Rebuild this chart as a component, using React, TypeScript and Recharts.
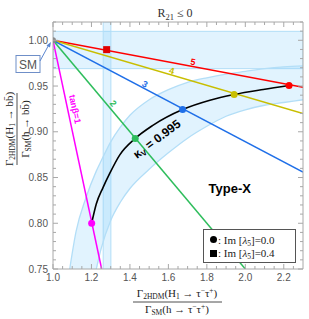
import React from 'react';
import { ComposedChart, XAxis, YAxis, Line, Area, Scatter, ReferenceArea } from 'recharts';

const W = 309;
const H = 319;

const X_DOMAIN: [number, number] = [1.0, 2.3];
const Y_DOMAIN: [number, number] = [0.75, 1.02];

const xTicks = [1.0, 1.05, 1.1, 1.15, 1.2, 1.25, 1.3, 1.35, 1.4, 1.45, 1.5, 1.55, 1.6, 1.65, 1.7, 1.75, 1.8, 1.85, 1.9, 1.95, 2.0, 2.05, 2.1, 2.15, 2.2, 2.25];
const xMajorTicks = [1.0, 1.2, 1.4, 1.6, 1.8, 2.0, 2.2];
const yTicks = [0.75, 0.76, 0.77, 0.78, 0.79, 0.8, 0.81, 0.82, 0.83, 0.84, 0.85, 0.86, 0.87, 0.88, 0.89, 0.9, 0.91, 0.92, 0.93, 0.94, 0.95, 0.96, 0.97, 0.98, 0.99, 1.0, 1.01, 1.02];
const yMajorTicks = [0.75, 0.8, 0.85, 0.9, 0.95, 1.0];

// tan(beta) lines, all starting at the SM point
const smPoint = [{ x: 1.0, y: 1.0 }];
const tanb5 = [{ x: 1.0, y: 1.0 }, { x: 2.3, y: 0.9487 }];
const tanb4 = [{ x: 1.0, y: 1.0 }, { x: 2.3, y: 0.92 }];
const tanb3 = [{ x: 1.0, y: 1.0 }, { x: 2.3, y: 0.856 }];
const tanb2 = [{ x: 1.0, y: 1.0 }, { x: 2.0, y: 0.75 }];
const tanb1 = [{ x: 1.0, y: 1.0 }, { x: 1.253, y: 0.75 }];

// kappa_V = 0.995 curve
const kappaCurve = [
  { x: 1.201, y: 0.8 },
  { x: 1.225, y: 0.821 },
  { x: 1.26, y: 0.839 },
  { x: 1.295, y: 0.8545 },
  { x: 1.3465, y: 0.8745 },
  { x: 1.4275, y: 0.8927 },
  { x: 1.519, y: 0.907 },
  { x: 1.674, y: 0.9243 },
  { x: 1.816, y: 0.9345 },
  { x: 1.942, y: 0.9407 },
  { x: 2.093, y: 0.9462 },
  { x: 2.2275, y: 0.9505 },
];

// markers: Im[lambda5] = 0.0 (circles) and 0.4 (square)
const dot5 = [{ x: 2.2275, y: 0.9505 }];
const dot4 = [{ x: 1.942, y: 0.9407 }];
const dot3 = [{ x: 1.674, y: 0.9243 }];
const dot2 = [{ x: 1.4275, y: 0.8927 }];
const dot1 = [{ x: 1.201, y: 0.8 }];
const square5 = [{ x: 1.279, y: 0.9898 }];

// light-blue kappa band edges
const arcUpper = [
  { x: 1.087, y: 0.75 },
  { x: 1.12, y: 0.791 },
  { x: 1.17, y: 0.827 },
  { x: 1.225, y: 0.857 },
  { x: 1.25, y: 0.868 },
  { x: 1.3, y: 0.889 },
  { x: 1.35, y: 0.905 },
  { x: 1.4, y: 0.918 },
  { x: 1.5, y: 0.935 },
  { x: 1.6, y: 0.946 },
  { x: 1.7, y: 0.954 },
  { x: 1.8, y: 0.959 },
  { x: 1.9, y: 0.963 },
  { x: 2.0, y: 0.966 },
  { x: 2.1, y: 0.969 },
  { x: 2.2, y: 0.971 },
  { x: 2.3, y: 0.972 },
];
const arcLower = [
  { x: 1.225, y: 0.75 },
  { x: 1.25, y: 0.772 },
  { x: 1.3, y: 0.803 },
  { x: 1.35, y: 0.823 },
  { x: 1.4, y: 0.838 },
  { x: 1.5, y: 0.859 },
  { x: 1.6, y: 0.877 },
  { x: 1.7, y: 0.893 },
  { x: 1.8, y: 0.906 },
  { x: 1.9, y: 0.917 },
  { x: 2.0, y: 0.924 },
  { x: 2.1, y: 0.929 },
  { x: 2.2, y: 0.932 },
  { x: 2.3, y: 0.935 },
];
const kappaBand = [
  { x: 1.087, range: [0.75, 0.75] },
  { x: 1.12, range: [0.75, 0.791] },
  { x: 1.17, range: [0.75, 0.827] },
  { x: 1.225, range: [0.75, 0.857] },
  { x: 1.25, range: [0.772, 0.868] },
  { x: 1.3, range: [0.803, 0.889] },
  { x: 1.35, range: [0.823, 0.905] },
  { x: 1.4, range: [0.838, 0.918] },
  { x: 1.5, range: [0.859, 0.935] },
  { x: 1.6, range: [0.877, 0.946] },
  { x: 1.7, range: [0.893, 0.954] },
  { x: 1.8, range: [0.906, 0.959] },
  { x: 1.9, range: [0.917, 0.963] },
  { x: 2.0, range: [0.924, 0.966] },
  { x: 2.1, range: [0.929, 0.969] },
  { x: 2.2, range: [0.932, 0.971] },
  { x: 2.3, range: [0.935, 0.972] },
];

const hBand = [0.969, 1.0098];
const vBand = [1.261, 1.301];

// annotation anchors
const label5 = [{ x: 1.728, y: 0.9763 }];
const label4 = [{ x: 1.617, y: 0.9665 }];
const label3 = [{ x: 1.478, y: 0.952 }];
const label2 = [{ x: 1.313, y: 0.9309 }];
const label1 = [{ x: 1.114, y: 0.9247 }];
const labelKappa = [{ x: 1.54, y: 0.892 }];
const labelType = [{ x: 1.919, y: 0.8384 }];

const BLUE_FILL = 'rgb(135,206,250)';
const BLUE_EDGE = '#b3def7';
const AXIS = '#a8a8a8';
const TICKTXT = '#555';
const SANS = 'Liberation Sans, Arial, sans-serif';
const SERIF = 'Liberation Serif, Times New Roman, serif';

const isMajor = (v: number, majors: number[]) => majors.some((m) => Math.abs(m - v) < 1e-6);

const BottomTick = (p: any) => {
  const { x, y, payload } = p;
  const major = isMajor(payload.value, xMajorTicks);
  return (
    <g>
      <line x1={x} y1={y} x2={x} y2={y - (major ? 5 : 3)} stroke={AXIS} />
      {major && (
        <text x={x} y={y + 12} textAnchor="middle" fontFamily={SANS} fontSize={10} fill={TICKTXT}>
          {payload.value.toFixed(1)}
        </text>
      )}
    </g>
  );
};
const TopTick = (p: any) => {
  const { x, y, payload } = p;
  const major = isMajor(payload.value, xMajorTicks);
  return <line x1={x} y1={y} x2={x} y2={y + (major ? 5 : 3)} stroke={AXIS} />;
};
const LeftTick = (p: any) => {
  const { x, y, payload } = p;
  const major = isMajor(payload.value, yMajorTicks);
  return (
    <g>
      <line x1={x} y1={y} x2={x + (major ? 5 : 3)} y2={y} stroke={AXIS} />
      {major && (
        <text x={x - 5} y={y + 3.5} textAnchor="end" fontFamily={SANS} fontSize={10} fill={TICKTXT}>
          {payload.value.toFixed(2)}
        </text>
      )}
    </g>
  );
};
const RightTick = (p: any) => {
  const { x, y, payload } = p;
  const major = isMajor(payload.value, yMajorTicks);
  return <line x1={x} y1={y} x2={x - (major ? 5 : 3)} y2={y} stroke={AXIS} />;
};

const circleShape = (color: string, r: number) => (p: any) => (
  <circle cx={p.cx} cy={p.cy} r={r} fill={color} />
);
const squareShape = (color: string, s: number) => (p: any) => (
  <rect x={p.cx - s / 2} y={p.cy - s / 2} width={s} height={s} fill={color} />
);
const textShape = (txt: string, color: string, angle: number, size: number, bold: boolean) => (p: any) => (
  <text
    x={p.cx}
    y={p.cy}
    transform={`rotate(${angle} ${p.cx} ${p.cy})`}
    textAnchor="middle"
    dominantBaseline="central"
    fontFamily={SANS}
    fontSize={size}
    fontWeight={bold ? 'bold' : 'normal'}
    fill={color}
  >
    {txt}
  </text>
);
const kappaShape = (p: any) => (
  <text
    x={p.cx}
    y={p.cy}
    transform={`rotate(-37 ${p.cx} ${p.cy})`}
    textAnchor="middle"
    dominantBaseline="central"
    fontFamily={SANS}
    fontSize={12}
    fontWeight="bold"
    fill="#000"
  >
    κ<tspan fontSize={8} dy={3}>V</tspan>
    <tspan dy={-3}> = 0.995</tspan>
  </text>
);

export default function App() {
  return (
    <div style={{ position: 'absolute', left: 0, top: 0, width: W, height: H, background: '#fff' }}>
      <ComposedChart width={W} height={H} margin={{ top: 0, right: 0, bottom: 0, left: 0 }}>
        <XAxis
          dataKey="x"
          type="number"
          domain={X_DOMAIN}
          allowDataOverflow
          ticks={xTicks}
          interval={0}
          height={50}
          tickSize={0}
          tickMargin={0}
          tickLine={false}
          axisLine={{ stroke: AXIS }}
          tick={BottomTick}
        />
        <XAxis
          xAxisId="top"
          orientation="top"
          dataKey="x"
          type="number"
          domain={X_DOMAIN}
          allowDataOverflow
          ticks={xTicks}
          interval={0}
          height={22}
          tickSize={0}
          tickMargin={0}
          tickLine={false}
          axisLine={{ stroke: AXIS }}
          tick={TopTick}
        />
        <YAxis
          dataKey="y"
          type="number"
          domain={Y_DOMAIN}
          allowDataOverflow
          ticks={yTicks}
          interval={0}
          width={53}
          tickSize={0}
          tickMargin={0}
          tickLine={false}
          axisLine={{ stroke: AXIS }}
          tick={LeftTick}
        />
        <YAxis
          yAxisId="right"
          orientation="right"
          dataKey="y"
          type="number"
          domain={Y_DOMAIN}
          allowDataOverflow
          ticks={yTicks}
          interval={0}
          width={6}
          tickSize={0}
          tickMargin={0}
          tickLine={false}
          axisLine={{ stroke: AXIS }}
          tick={RightTick}
        />

        <ReferenceArea y1={hBand[0]} y2={hBand[1]} fill={BLUE_FILL} fillOpacity={0.25} stroke={BLUE_EDGE} strokeWidth={1} ifOverflow="hidden" />
        <ReferenceArea x1={vBand[0]} x2={vBand[1]} fill={BLUE_FILL} fillOpacity={0.25} stroke={BLUE_EDGE} strokeWidth={1} ifOverflow="hidden" />

        <Area data={kappaBand} dataKey="range" type="monotone" fill={BLUE_FILL} fillOpacity={0.25} stroke="none" isAnimationActive={false} dot={false} activeDot={false} />
        <Line data={arcUpper} dataKey="y" type="monotone" stroke={BLUE_EDGE} strokeWidth={1.3} dot={false} activeDot={false} isAnimationActive={false} />
        <Line data={arcLower} dataKey="y" type="monotone" stroke={BLUE_EDGE} strokeWidth={1.3} dot={false} activeDot={false} isAnimationActive={false} />

        <Line data={tanb5} dataKey="y" type="linear" stroke="#ff0000" strokeWidth={1.5} dot={false} activeDot={false} isAnimationActive={false} />
        <Line data={tanb4} dataKey="y" type="linear" stroke="#c8be00" strokeWidth={1.5} dot={false} activeDot={false} isAnimationActive={false} />
        <Line data={tanb3} dataKey="y" type="linear" stroke="#1f6fe8" strokeWidth={1.5} dot={false} activeDot={false} isAnimationActive={false} />
        <Line data={tanb2} dataKey="y" type="linear" stroke="#2ebd5c" strokeWidth={1.5} dot={false} activeDot={false} isAnimationActive={false} />
        <Line data={tanb1} dataKey="y" type="linear" stroke="#ff00ff" strokeWidth={1.5} dot={false} activeDot={false} isAnimationActive={false} />
        <Line data={kappaCurve} dataKey="y" type="monotone" stroke="#000" strokeWidth={1.6} dot={false} activeDot={false} isAnimationActive={false} />

        <Scatter data={smPoint} dataKey="y" shape={circleShape('#8a8a8a', 3)} isAnimationActive={false} />
        <Scatter data={dot5} dataKey="y" shape={circleShape('#ff0000', 3.5)} isAnimationActive={false} />
        <Scatter data={dot4} dataKey="y" shape={circleShape('#c8be00', 3.5)} isAnimationActive={false} />
        <Scatter data={dot3} dataKey="y" shape={circleShape('#1f6fe8', 3.5)} isAnimationActive={false} />
        <Scatter data={dot2} dataKey="y" shape={circleShape('#2ebd5c', 3.5)} isAnimationActive={false} />
        <Scatter data={dot1} dataKey="y" shape={circleShape('#ff00ff', 3.5)} isAnimationActive={false} />
        <Scatter data={square5} dataKey="y" shape={squareShape('#e00000', 7)} isAnimationActive={false} />

        <Scatter data={label5} dataKey="y" shape={textShape('5', '#ff0000', 10.6, 9, true)} isAnimationActive={false} />
        <Scatter data={label4} dataKey="y" shape={textShape('4', '#c8be00', 16.3, 9, true)} isAnimationActive={false} />
        <Scatter data={label3} dataKey="y" shape={textShape('3', '#1f6fe8', 27.9, 9, true)} isAnimationActive={false} />
        <Scatter data={label2} dataKey="y" shape={textShape('2', '#2ebd5c', 50, 9, true)} isAnimationActive={false} />
        <Scatter data={label1} dataKey="y" shape={textShape('tanβ=1', '#ff00ff', 78, 9, true)} isAnimationActive={false} />
        <Scatter data={labelKappa} dataKey="y" shape={kappaShape} isAnimationActive={false} />
        <Scatter data={labelType} dataKey="y" shape={textShape('Type-X', '#000', 0, 13, true)} isAnimationActive={false} />
      </ComposedChart>

      <svg width={W} height={H} style={{ position: 'absolute', left: 0, top: 0, pointerEvents: 'none' }}>
        <text x={175} y={17} textAnchor="middle" fontFamily={SERIF} fontSize={12} fill="#333">
          R<tspan fontSize={8.5} dy={3}>21</tspan>
          <tspan dy={-3}> ≤ 0</tspan>
        </text>

        {/* x axis label */}
        <text x={177} y={297} textAnchor="middle" fontFamily={SERIF} fontSize={11} fill="#222">
          Γ<tspan fontSize={7.5} dy={2}>2HDM</tspan>
          <tspan dy={-2}>(H</tspan>
          <tspan fontSize={7.5} dy={2}>1</tspan>
          <tspan dy={-2}> → τ</tspan>
          <tspan fontSize={7.5} dy={-4}>−</tspan>
          <tspan dy={4}>τ</tspan>
          <tspan fontSize={7.5} dy={-4}>+</tspan>
          <tspan dy={4}>)</tspan>
        </text>
        <line x1={133} x2={222} y1={302} y2={302} stroke="#222" strokeWidth={0.8} />
        <text x={177} y={313} textAnchor="middle" fontFamily={SERIF} fontSize={11} fill="#222">
          Γ<tspan fontSize={7.5} dy={2}>SM</tspan>
          <tspan dy={-2}>(h → τ</tspan>
          <tspan fontSize={7.5} dy={-4}>−</tspan>
          <tspan dy={4}>τ</tspan>
          <tspan fontSize={7.5} dy={-4}>+</tspan>
          <tspan dy={4}>)</tspan>
        </text>

        {/* y axis label */}
        <g transform="translate(0,129) rotate(-90)">
          <text x={0} y={13} textAnchor="middle" fontFamily={SERIF} fontSize={11} fill="#222">
            Γ<tspan fontSize={7.5} dy={2}>2HDM</tspan>
            <tspan dy={-2}>(H</tspan>
            <tspan fontSize={7.5} dy={2}>1</tspan>
            <tspan dy={-2}> → bb̄)</tspan>
          </text>
          <line x1={-36} x2={36} y1={17} y2={17} stroke="#222" strokeWidth={0.8} />
          <text x={0} y={29} textAnchor="middle" fontFamily={SERIF} fontSize={11} fill="#222">
            Γ<tspan fontSize={7.5} dy={2}>SM</tspan>
            <tspan dy={-2}>(h → bb̄)</tspan>
          </text>
        </g>

        {/* SM callout */}
        <rect x={16} y={55.5} width={24} height={17} fill="#fff" stroke="#6f8fc8" strokeWidth={1} />
        <text x={28} y={68.5} textAnchor="middle" fontFamily={SANS} fontSize={12} fill="#555">SM</text>
        <line x1={40} y1={61} x2={49} y2={44.5} stroke="#5b86d0" strokeWidth={1} />
        <polygon points="51,42 46.5,45.5 50,47.5" fill="#5b86d0" />

        {/* legend */}
        <rect x={203.5} y={229.5} width={92} height={33} fill="#fff" stroke="#555" strokeWidth={1} />
        <circle cx={213.5} cy={239.5} r={3.5} fill="#000" />
        <text x={218} y={243.5} fontFamily={SERIF} fontSize={11} fill="#222">
          : Im [<tspan fontStyle="italic">λ</tspan>
          <tspan fontSize={7.5} dy={2}>5</tspan>
          <tspan dy={-2}>]=0.0</tspan>
        </text>
        <rect x={210} y={250} width={7} height={7} fill="#000" />
        <text x={218} y={257} fontFamily={SERIF} fontSize={11} fill="#222">
          : Im [<tspan fontStyle="italic">λ</tspan>
          <tspan fontSize={7.5} dy={2}>5</tspan>
          <tspan dy={-2}>]=0.4</tspan>
        </text>
      </svg>
    </div>
  );
}
